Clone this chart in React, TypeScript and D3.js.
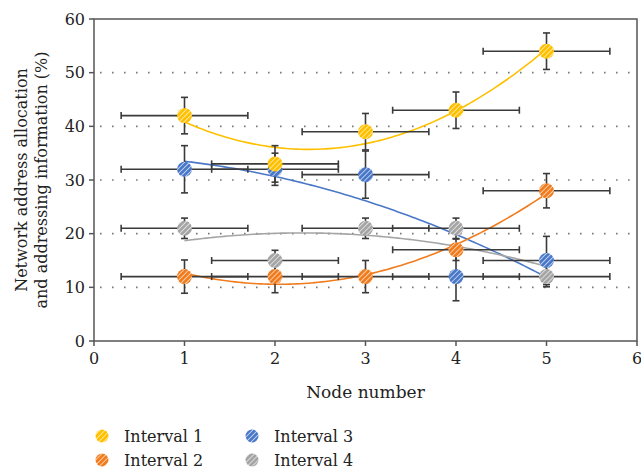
import React from "react";
import * as d3 from "d3";

const nodes = [1, 2, 3, 4, 5];
const seriesNames = ["Interval 1", "Interval 2", "Interval 3", "Interval 4"];
const interval1 = [42, 33, 39, 43, 54];
const interval2 = [12, 12, 12, 17, 28];
const interval3 = [32, 32, 31, 12, 15];
const interval4 = [21, 15, 21, 21, 12];
const yErr1 = [3.4, 3.4, 3.4, 3.4, 3.4];
const yErr2 = [3.1, 3.0, 3.0, 2.0, 3.2];
const yErr3 = [4.4, 3.0, 4.4, 4.5, 4.5];
const yErr4 = [1.9, 1.9, 1.9, 1.9, 1.9];
const xErr = [0.7, 0.7, 0.7, 0.7, 0.7];
const colors = ["#FFC000", "#F07C1E", "#4A78C8", "#A5A5A5"];
const xTicks = [0, 1, 2, 3, 4, 5, 6];
const yTicks = [0, 10, 20, 30, 40, 50, 60];
const gridValues = [10, 20, 30, 40, 50];
const drawOrder = [2, 3, 1, 0];

const W = 641, H = 470;
const L = 94, R = 637, T = 19, B = 341;
const font = "'DejaVu Serif', 'Liberation Serif', serif";

function quadFit(xs: number[], ys: number[]) {
  const n = xs.length;
  const s = [0, 0, 0, 0, 0], t = [0, 0, 0];
  for (let i = 0; i < n; i++) {
    const xv = xs[i], yv = ys[i];
    for (let k = 0; k < 5; k++) s[k] += Math.pow(xv, k);
    for (let k = 0; k < 3; k++) t[k] += Math.pow(xv, k) * yv;
  }
  const A = [
    [s[0], s[1], s[2], t[0]],
    [s[1], s[2], s[3], t[1]],
    [s[2], s[3], s[4], t[2]],
  ];
  for (let i = 0; i < 3; i++) {
    for (let j = i + 1; j < 3; j++) {
      const f = A[j][i] / A[i][i];
      for (let k = i; k < 4; k++) A[j][k] -= f * A[i][k];
    }
  }
  const c = [0, 0, 0];
  for (let i = 2; i >= 0; i--) {
    let v = A[i][3];
    for (let k = i + 1; k < 3; k++) v -= A[i][k] * c[k];
    c[i] = v / A[i][i];
  }
  return (xv: number) => c[0] + c[1] * xv + c[2] * xv * xv;
}

export default function App() {
  const x = d3.scaleLinear().domain([0, 6]).range([L, R]);
  const y = d3.scaleLinear().domain([0, 60]).range([B, T]);
  const series = [interval1, interval2, interval3, interval4];
  const errs = [yErr1, yErr2, yErr3, yErr4];
  const line = d3.line<[number, number]>().x((d) => x(d[0])).y((d) => y(d[1]));
  const samples = d3.range(0, 101).map((i) => 1 + (4 * i) / 100);
  const ec = "#3a3a3a";
  const cap = 3.5;

  return (
    <svg width={W} height={H} style={{ position: "absolute", left: 0, top: 0, background: "#fff" }}>
      <defs>
        {colors.map((c, i) => (
          <pattern key={i} id={`hatch${i}`} patternUnits="userSpaceOnUse" width={3.6} height={3.6} patternTransform="rotate(45)">
            <rect width={3.6} height={3.6} fill={c} />
            <line x1={0} y1={0} x2={0} y2={3.6} stroke="#fff" strokeWidth={1.4} strokeOpacity={0.85} />
          </pattern>
        ))}
      </defs>
      {gridValues.map((g) => (
        <line key={g} x1={L + 6} x2={R} y1={y(g)} y2={y(g)} stroke="#7a7a7a" strokeWidth={1.6} strokeDasharray="1.6 10.4" />
      ))}
      <rect x={L} y={T} width={R - L} height={B - T} fill="none" stroke="#555" strokeWidth={1.5} />
      {yTicks.map((t) => (
        <g key={t}>
          <line x1={L - 5} x2={L} y1={y(t)} y2={y(t)} stroke="#555" strokeWidth={1.5} />
          <text x={L - 9} y={y(t)} dy="0.36em" textAnchor="end" fontFamily={font} fontSize={16} fill="#222">{t}</text>
        </g>
      ))}
      {xTicks.map((t) => (
        <g key={t}>
          <line x1={x(t)} x2={x(t)} y1={B} y2={B + 5} stroke="#555" strokeWidth={1.5} />
          <text x={x(t)} y={B + 23} textAnchor="middle" fontFamily={font} fontSize={16} fill="#222">{t}</text>
        </g>
      ))}
      {drawOrder.map((si) => {
        const f = quadFit(nodes, series[si]);
        return (
          <path key={si} d={line(samples.map((v) => [v, f(v)] as [number, number])) || ""} fill="none" stroke={colors[si]} strokeWidth={1.6} />
        );
      })}
      {drawOrder.map((si) => (
        <g key={si} stroke={ec} strokeWidth={1.6}>
          {series[si].map((v, i) => {
            const cx = x(nodes[i]), cy = y(v);
            const x0 = x(nodes[i] - xErr[i]), x1 = x(nodes[i] + xErr[i]);
            const y0 = y(v + errs[si][i]), y1 = y(v - errs[si][i]);
            return (
              <g key={i}>
                <line x1={x0} x2={x1} y1={cy} y2={cy} />
                <line x1={x0} x2={x0} y1={cy - cap} y2={cy + cap} />
                <line x1={x1} x2={x1} y1={cy - cap} y2={cy + cap} />
                <line x1={cx} x2={cx} y1={y0} y2={y1} />
                <line x1={cx - cap} x2={cx + cap} y1={y0} y2={y0} />
                <line x1={cx - cap} x2={cx + cap} y1={y1} y2={y1} />
              </g>
            );
          })}
        </g>
      ))}
      {drawOrder.map((si) => (
        <g key={si}>
          {series[si].map((v, i) => (
            <circle key={i} cx={x(nodes[i])} cy={y(v)} r={7.5} fill={`url(#hatch${si})`} />
          ))}
        </g>
      ))}
      <text x={(L + R) / 2} y={398} textAnchor="middle" fontFamily={font} fontSize={17} fill="#222">Node number</text>
      <g transform={`translate(27, ${(T + B) / 2}) rotate(-90)`}>
        <text x={0} y={0} textAnchor="middle" fontFamily={font} fontSize={16} fill="#222">Network address allocation</text>
        <text x={0} y={20} textAnchor="middle" fontFamily={font} fontSize={16} fill="#222">and addressing information (%)</text>
      </g>
      {seriesNames.map((n, i) => {
        const lx = 102 + Math.floor(i / 2) * 150;
        const ly = 436 + (i % 2) * 24;
        return (
          <g key={n}>
            <circle cx={lx} cy={ly} r={6.5} fill={`url(#hatch${i})`} />
            <text x={lx + 22} y={ly} dy="0.36em" fontFamily={font} fontSize={16} fill="#222">{n}</text>
          </g>
        );
      })}
    </svg>
  );
}
